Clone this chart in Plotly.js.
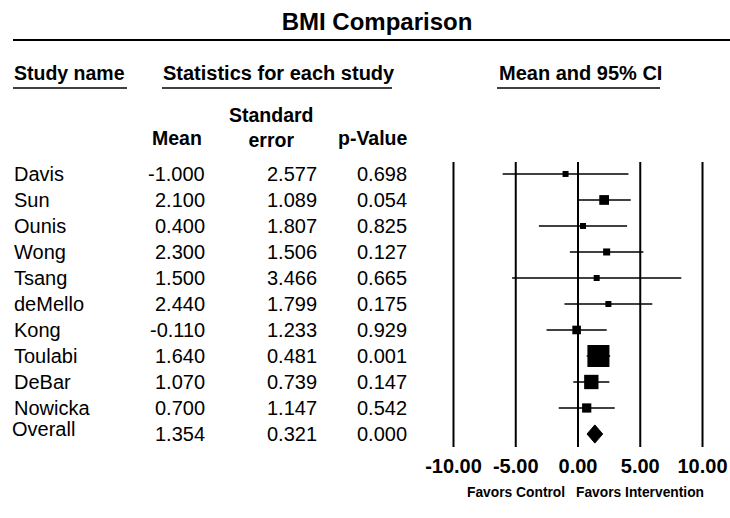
<!DOCTYPE html>
<html>
<head>
<meta charset="utf-8">
<script src="https://cdn.plot.ly/plotly-3.0.1.min.js"></script>
<style>html,body{margin:0;padding:0;background:#fff;}#chart{width:730px;height:518px;}</style>
</head>
<body>
<div id="chart"></div>
<script>
// ---- data ----
const studies = ["Davis","Sun","Ounis","Wong","Tsang","deMello","Kong","Toulabi","DeBar","Nowicka","Overall"];
const means   = [-1.000, 2.100, 0.400, 2.300, 1.500, 2.440, -0.110, 1.640, 1.070, 0.700, 1.354];
const stdErrs = [2.577, 1.089, 1.807, 1.506, 3.466, 1.799, 1.233, 0.481, 0.739, 1.147, 0.321];
const pValues = [0.698, 0.054, 0.825, 0.127, 0.665, 0.175, 0.929, 0.001, 0.147, 0.542, 0.000];
const tickVals = [-10, -5, 0, 5, 10];
const tickLabels = ["-10.00", "-5.00", "0.00", "5.00", "10.00"];
const colHeaders = ["Study name", "Statistics for each study", "Mean and 95% CI"];
const statHeaders = ["Mean", "Standard<br>error", "p-Value"];
const favorLabels = ["Favors Control", "Favors Intervention"];
const chartTitle = "BMI Comparison";

// ---- geometry helpers ----
const W = 730, H = 518;
const L = 451, R = 705, T = 162, B = 447;
const px = v => (v - L) / (R - L);
const py = v => (B - v) / (B - T);
const FONT = "Arial, 'Liberation Sans', sans-serif";

const nStudies = studies.length - 1;
const idx = studies.map((_, i) => i);
const sIdx = idx.slice(0, nStudies);

const squares = {
  type: "scatter", mode: "markers",
  x: sIdx.map(i => means[i]), y: sIdx,
  marker: { symbol: "square", color: "black", opacity: 1,
    size: sIdx.map(i => Math.max(6, 10.6 / stdErrs[i])), line: { width: 0 } },
  error_x: { type: "data", symmetric: true, array: sIdx.map(i => 1.96 * stdErrs[i]), width: 0, thickness: 1.5, color: "black" },
  hoverinfo: "skip", cliponaxis: false
};

const o = nStudies;
const lo = means[o] - 1.96 * stdErrs[o], hi = means[o] + 1.96 * stdErrs[o];
const diamond = {
  type: "scatter", mode: "lines",
  x: [lo, means[o], hi, means[o], lo], y: [o, o - 0.35, o, o + 0.35, o],
  fill: "toself", fillcolor: "black", line: { color: "black", width: 1 },
  hoverinfo: "skip"
};

const ann = [];
const txt = (x, y, text, opts) => ann.push(Object.assign({
  x: x, y: y, text: text, showarrow: false, xref: "paper", yref: "y",
  font: { family: FONT, size: 20, color: "black" }, yanchor: "middle"
}, opts || {}));

idx.forEach(i => {
  const isOverall = i === nStudies;
  txt(px(isOverall ? 10 : 12), i, studies[i], { xanchor: "left", yshift: isOverall ? 5 : 0 });
  txt(px(207), i, means[i].toFixed(3), { xanchor: "right" });
  txt(px(319), i, stdErrs[i].toFixed(3), { xanchor: "right" });
  txt(px(409), i, pValues[i].toFixed(3), { xanchor: "right" });
});

const bold = (x, yPix, text, anchor, size) => ann.push({
  x: px(x), y: py(yPix), xref: "paper", yref: "paper", text: "<b>" + text + "</b>",
  showarrow: false, xanchor: anchor, yanchor: "middle",
  font: { family: FONT, size: size || 19.5, color: "black" }
});
bold(12, 73, colHeaders[0], "left");
bold(279, 73, colHeaders[1], "center", 20);
bold(580, 73, colHeaders[2], "center", 20);
bold(177, 138, statHeaders[0], "center");
bold(271, 127, statHeaders[1], "center");
bold(373, 138, statHeaders[2], "center");

favorLabels.forEach((f, k) => ann.push({
  x: tickVals[1 + 2 * k], y: py(492), xref: "x", yref: "paper", text: "<b>" + f + "</b>",
  showarrow: false, xanchor: "center", yanchor: "middle",
  font: { family: FONT, size: 13.8, color: "black" }
}));

const hline = (x0, x1, y, w) => ({ type: "line", xref: "paper", yref: "paper",
  x0: px(x0), x1: px(x1), y0: py(y), y1: py(y), line: { color: "black", width: w } });

const vlines = tickVals.map(v => ({ type: "line", xref: "x", yref: "paper",
  x0: v, x1: v, y0: 0, y1: 1, layer: "below", line: { color: "black", width: 2 } }));

const layout = {
  width: W, height: H,
  margin: { l: L, r: W - R, t: T, b: H - B, pad: 0 },
  paper_bgcolor: "white", plot_bgcolor: "white",
  showlegend: false,
  title: { text: "<b>" + chartTitle + "</b>", xref: "container", yref: "container",
    x: 377 / W, xanchor: "center", y: 1 - 22 / H, yanchor: "middle",
    font: { family: FONT, size: 24, color: "black" } },
  xaxis: { range: [-10.2, 10.2], tickvals: tickVals, ticktext: tickLabels.map(t => "<b>" + t + "</b>"),
    showgrid: false, zeroline: false, showline: false, ticks: "", ticklabelstandoff: 5,
    tickfont: { family: FONT, size: 20, color: "black" }, fixedrange: true },
  yaxis: { range: [10.5, -0.46], visible: false, fixedrange: true },
  annotations: ann,
  shapes: [
    hline(13, 730, 40, 2),
    hline(13, 127, 88, 1.5),
    hline(162, 392, 88, 1.5),
    hline(497, 660, 88, 1.5)
  ].concat(vlines)
};

Plotly.newPlot("chart", [squares, diamond], layout, { staticPlot: true, displayModeBar: false });
</script>
</body>
</html>
